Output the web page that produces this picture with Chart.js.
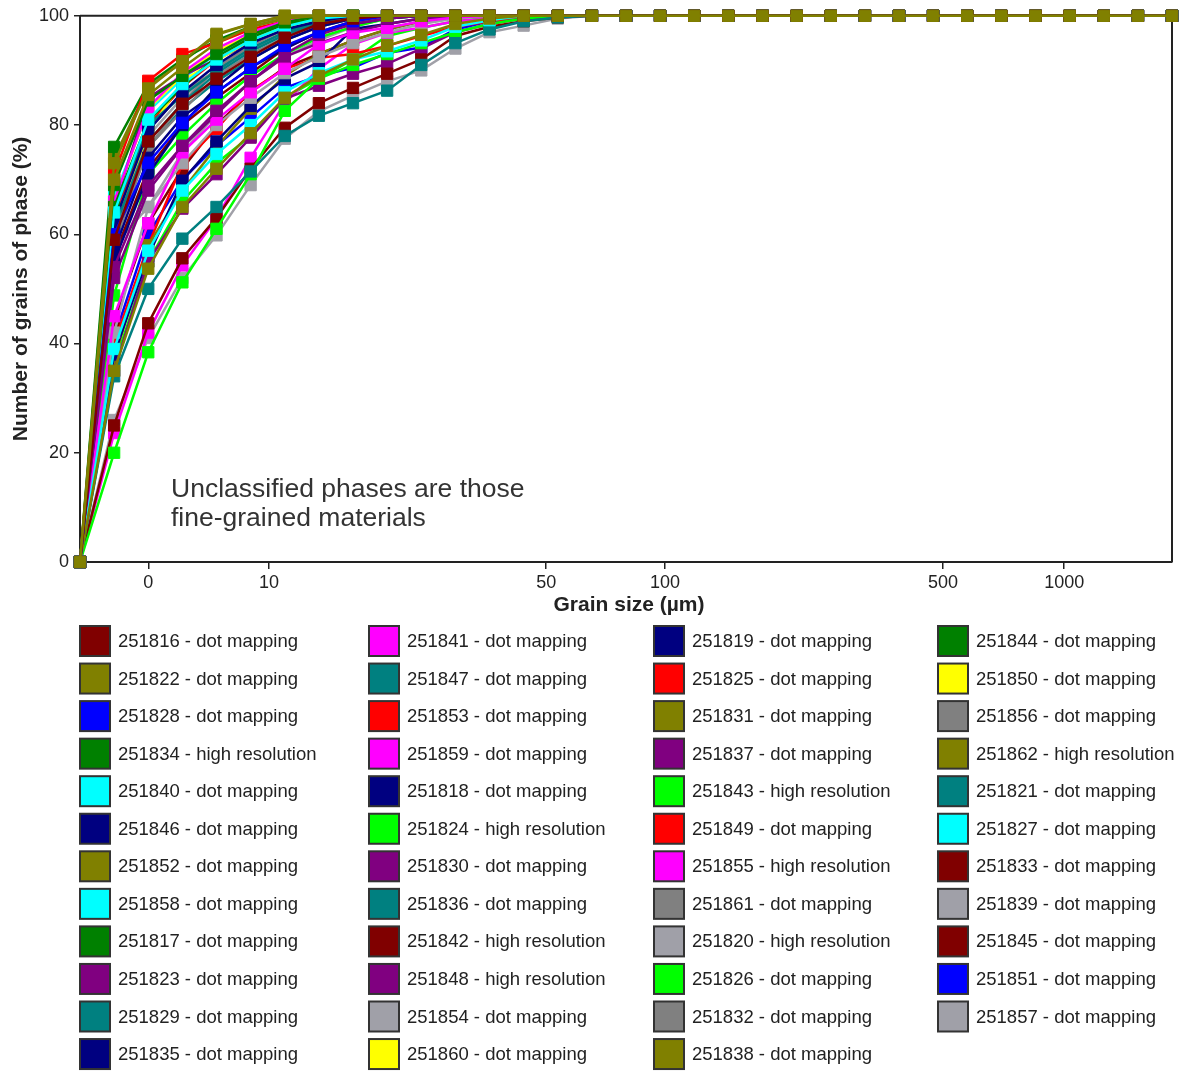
<!DOCTYPE html>
<html>
<head>
<meta charset="utf-8">
<script src="https://cdn.jsdelivr.net/npm/chart.js@4"></script>
<style>
  body { margin: 0; background: #fff; }
  #wrap { width: 1181px; height: 1072px; position: relative; }
</style>
</head>
<body>
<div id="wrap"><canvas id="grafico"></canvas></div>
<script>
// samples, in legend order (column by column)
const sampleIds = [
  '251816', '251822', '251828', '251834', '251840', '251846', '251852', '251858', '251817', '251823', '251829', '251835',
  '251841', '251847', '251853', '251859', '251818', '251824', '251830', '251836', '251842', '251848', '251854', '251860',
  '251819', '251825', '251831', '251837', '251843', '251849', '251855', '251861', '251820', '251826', '251832', '251838',
  '251844', '251850', '251856', '251862', '251821', '251827', '251833', '251839', '251845', '251851', '251857'
];
const methods = [
  'dot mapping', 'dot mapping', 'dot mapping', 'high resolution', 'dot mapping', 'dot mapping', 'dot mapping', 'dot mapping', 'dot mapping', 'dot mapping', 'dot mapping', 'dot mapping',
  'dot mapping', 'dot mapping', 'dot mapping', 'dot mapping', 'dot mapping', 'high resolution', 'dot mapping', 'dot mapping', 'high resolution', 'high resolution', 'dot mapping', 'dot mapping',
  'dot mapping', 'dot mapping', 'dot mapping', 'dot mapping', 'high resolution', 'dot mapping', 'high resolution', 'dot mapping', 'high resolution', 'dot mapping', 'dot mapping', 'dot mapping',
  'dot mapping', 'dot mapping', 'dot mapping', 'high resolution', 'dot mapping', 'dot mapping', 'dot mapping', 'dot mapping', 'dot mapping', 'dot mapping', 'dot mapping'
];

// cumulative % of grains, one row per sample, 33 steps each
const seriesValues = [
  [0,59,77,83.9,88.5,92.5,96,98.5,99.5,100,100,100,100,100,100,100, 100,100,100,100,100,100,100,100,100,100,100,100,100,100,100,100,100], // 251816
  [0,73,86.7,91.7,96.7,98.5,100,100,100,100,100,100,100,100,100,100, 100,100,100,100,100,100,100,100,100,100,100,100,100,100,100,100,100], // 251822
  [0,60,73.1,80.4,86,90.5,94.5,97,99,100,100,100,100,100,100,100, 100,100,100,100,100,100,100,100,100,100,100,100,100,100,100,100,100], // 251828
  [0,69,84.5,89,93,96.5,98.8,100,100,100,100,100,100,100,100,100, 100,100,100,100,100,100,100,100,100,100,100,100,100,100,100,100,100], // 251834
  [0,64,81,87.5,92,95.5,98,99.5,100,100,100,100,100,100,100,100, 100,100,100,100,100,100,100,100,100,100,100,100,100,100,100,100,100], // 251840
  [0,62,79,86,91,95,97.5,99,100,100,100,100,100,100,100,100, 100,100,100,100,100,100,100,100,100,100,100,100,100,100,100,100,100], // 251846
  [0,35,53.7,65,72,78.5,85,89,92,94.5,96.5,98.5,99.5,100,100,100, 100,100,100,100,100,100,100,100,100,100,100,100,100,100,100,100,100], // 251852
  [0,39,57,68,74.7,80,86,89.5,92,93.5,95.5,98,99.2,100,100,100, 100,100,100,100,100,100,100,100,100,100,100,100,100,100,100,100,100], // 251858
  [0,65,80.8,87,92.5,96,98.5,99.5,100,100,100,100,100,100,100,100, 100,100,100,100,100,100,100,100,100,100,100,100,100,100,100,100,100], // 251817
  [0,54,68.9,76.2,82.6,88,93,96.5,98.5,99.5,100,100,100,100,100,100, 100,100,100,100,100,100,100,100,100,100,100,100,100,100,100,100,100], // 251823
  [0,34,50,59.2,65,71.5,78,81.7,84,86.3,91,95,97.5,99,99.7,100, 100,100,100,100,100,100,100,100,100,100,100,100,100,100,100,100,100], // 251829
  [0,57,74,81.5,86,90.5,94,97,98.5,99.5,100,100,100,100,100,100, 100,100,100,100,100,100,100,100,100,100,100,100,100,100,100,100,100], // 251835
  [0,66,83.2,89.6,94,97,99,100,100,100,100,100,100,100,100,100, 100,100,100,100,100,100,100,100,100,100,100,100,100,100,100,100,100], // 251841
  [0,61,77,84,89.5,93.5,96.5,98.8,100,100,100,100,100,100,100,100, 100,100,100,100,100,100,100,100,100,100,100,100,100,100,100,100,100], // 251847
  [0,71,88.1,93,95,97.5,99,100,100,100,100,100,100,100,100,100, 100,100,100,100,100,100,100,100,100,100,100,100,100,100,100,100,100], // 251853
  [0,45,62,75,81,86,90.3,94.8,96.9,97.8,99,99.7,100,100,100,100, 100,100,100,100,100,100,100,100,100,100,100,100,100,100,100,100,100], // 251859
  [0,55,71,80,87,92,95.5,98,99.5,100,100,100,100,100,100,100, 100,100,100,100,100,100,100,100,100,100,100,100,100,100,100,100,100], // 251818
  [0,20,38.4,51.2,61,71,82.6,88.5,91,93,95,97,98.5,99.5,100,100, 100,100,100,100,100,100,100,100,100,100,100,100,100,100,100,100,100], // 251824
  [0,52,68,76,82,88,92.5,95,97,98.5,99.5,100,100,100,100,100, 100,100,100,100,100,100,100,100,100,100,100,100,100,100,100,100,100], // 251830
  [0,64,80,85.4,90,94,97,99,100,100,100,100,100,100,100,100, 100,100,100,100,100,100,100,100,100,100,100,100,100,100,100,100,100], // 251836
  [0,25,43.7,55.6,63,72,79.5,84,86.8,89.4,92,96.3,98,99,99.7,100, 100,100,100,100,100,100,100,100,100,100,100,100,100,100,100,100,100], // 251842
  [0,35,55,64.7,71,77.7,84.8,87.2,89.4,91.2,94,97,98.5,99.5,100,100, 100,100,100,100,100,100,100,100,100,100,100,100,100,100,100,100,100], // 251848
  [0,42,65,73,80,85,89.5,92.5,95,97,98.5,99.5,100,100,100,100, 100,100,100,100,100,100,100,100,100,100,100,100,100,100,100,100,100], // 251854
  [0,62,78.6,88.1,91.8,95.5,98,99.5,100,100,100,100,100,100,100,100, 100,100,100,100,100,100,100,100,100,100,100,100,100,100,100,100,100], // 251860
  [0,38,56,69.8,77,83.5,88.5,91.5,97.6,98.5,99.5,100,100,100,100,100, 100,100,100,100,100,100,100,100,100,100,100,100,100,100,100,100,100], // 251819
  [0,63,80,87,92,95.5,98,99.5,100,100,100,100,100,100,100,100, 100,100,100,100,100,100,100,100,100,100,100,100,100,100,100,100,100], // 251825
  [0,37,58,68,76,83,89,93,95.5,97.5,99,99.7,100,100,100,100, 100,100,100,100,100,100,100,100,100,100,100,100,100,100,100,100,100], // 251831
  [0,65,85,89,92,95,97.5,99,100,100,100,100,100,100,100,100, 100,100,100,100,100,100,100,100,100,100,100,100,100,100,100,100,100], // 251837
  [0,48.8,71,78,84,89,93,96,98,99.5,100,100,100,100,100,100, 100,100,100,100,100,100,100,100,100,100,100,100,100,100,100,100,100], // 251843
  [0,40,58,72.9,79.3,86.3,90.3,92.3,93,94.5,96.3,98,99,99.7,100,100, 100,100,100,100,100,100,100,100,100,100,100,100,100,100,100,100,100], // 251849
  [0,23.6,42,54.3,62.9,74,84,90.3,94.8,96.9,97.8,99,99.5,100,100,100, 100,100,100,100,100,100,100,100,100,100,100,100,100,100,100,100,100], // 251855
  [0,58,75.9,84,90.5,94.5,97.5,99,100,100,100,100,100,100,100,100, 100,100,100,100,100,100,100,100,100,100,100,100,100,100,100,100,100], // 251861
  [0,26,41,52,59.8,69,77.5,82.5,85.4,88,90,94,97,98.2,99.5,100, 100,100,100,100,100,100,100,100,100,100,100,100,100,100,100,100,100], // 251820
  [0,36,55,66,73,78,85,88.5,92,96.3,97.8,99,99.7,100,100,100, 100,100,100,100,100,100,100,100,100,100,100,100,100,100,100,100,100], // 251826
  [0,60,76,82.6,89,93,96,98.5,99.5,100,100,100,100,100,100,100, 100,100,100,100,100,100,100,100,100,100,100,100,100,100,100,100,100], // 251832
  [0,70,85.5,90.5,95,98,99.5,100,100,100,100,100,100,100,100,100, 100,100,100,100,100,100,100,100,100,100,100,100,100,100,100,100,100], // 251838
  [0,76,87.5,92,95.5,98,99.5,100,100,100,100,100,100,100,100,100, 100,100,100,100,100,100,100,100,100,100,100,100,100,100,100,100,100], // 251844
  [0,66,83,89,93.5,96.5,98.5,99.5,100,100,100,100,100,100,100,100, 100,100,100,100,100,100,100,100,100,100,100,100,100,100,100,100,100], // 251850
  [0,63,79,86,90,94,97,99,100,100,100,100,100,100,100,100, 100,100,100,100,100,100,100,100,100,100,100,100,100,100,100,100,100], // 251856
  [0,74,87,91.5,96.5,98.5,100,100,100,100,100,100,100,100,100,100, 100,100,100,100,100,100,100,100,100,100,100,100,100,100,100,100,100], // 251862
  [0,59,76,83,88,92,95.5,98,99.5,100,100,100,100,100,100,100, 100,100,100,100,100,100,100,100,100,100,100,100,100,100,100,100,100], // 251821
  [0,67,82.5,88.5,93,96,98.5,99.5,100,100,100,100,100,100,100,100, 100,100,100,100,100,100,100,100,100,100,100,100,100,100,100,100,100], // 251827
  [0,56,72,80,85,89.5,94,97,99,100,100,100,100,100,100,100, 100,100,100,100,100,100,100,100,100,100,100,100,100,100,100,100,100], // 251833
  [0,61,78,85,90,94,96.5,98.5,99.5,100,100,100,100,100,100,100, 100,100,100,100,100,100,100,100,100,100,100,100,100,100,100,100,100], // 251839
  [0,44,62,72,80,86,90.5,93,95.5,97.5,99,99.7,100,100,100,100, 100,100,100,100,100,100,100,100,100,100,100,100,100,100,100,100,100], // 251845
  [0,41,60,70,76.2,81.4,86.8,89,90.5,93.2,94.2,97.5,99,99.7,100,100, 100,100,100,100,100,100,100,100,100,100,100,100,100,100,100,100,100], // 251851
  [0,58,65,75,82,88,92.5,95.5,98,99.5,100,100,100,100,100,100, 100,100,100,100,100,100,100,100,100,100,100,100,100,100,100,100,100]  // 251857
];

const xTickLabels = ['0', '10', '50', '100', '500', '1000'];
const xTickSteps = [2, 5.54, 13.66, 17.14, 25.29, 28.84];
const yTicks = [0, 20, 40, 60, 80, 100];

// colours per sample, same order as sampleIds
const cores = {
  maroon: '#800000', olive: '#808000', blue: '#0000ff', green: '#008000', cyan: '#00ffff',
  navy: '#000080', teal: '#008080', magenta: '#ff00ff', red: '#ff0000', lime: '#00ff00',
  purple: '#800080', gray: '#808080', silver: '#a0a0a8', yellow: '#ffff00'
};
const seriesColors = [
  'maroon', 'olive', 'blue', 'green', 'cyan', 'navy', 'olive', 'cyan', 'green', 'purple', 'teal', 'navy',
  'magenta', 'teal', 'red', 'magenta', 'navy', 'lime', 'purple', 'teal', 'maroon', 'purple', 'silver', 'yellow',
  'navy', 'red', 'olive', 'purple', 'lime', 'red', 'magenta', 'gray', 'silver', 'lime', 'gray', 'olive',
  'green', 'yellow', 'gray', 'olive', 'teal', 'cyan', 'maroon', 'silver', 'maroon', 'blue', 'silver'
].map(c => cores[c]);

const fonte = '"Liberation Sans", Arial, sans-serif';

const datasets = sampleIds.map((id, i) => ({
  label: id + ' - ' + methods[i],
  data: seriesValues[i].map((v, k) => ({ x: k, y: v })),
  borderColor: seriesColors[i],
  backgroundColor: seriesColors[i],
  pointBackgroundColor: seriesColors[i],
  pointBorderColor: seriesColors[i],
  borderWidth: 2.5,
  pointStyle: 'rect',
  pointRadius: 8,
  pointBorderWidth: 1,
  tension: 0,
  clip: false,
  order: id === '251838' ? -1 : 0
}));

const decoracao = {
  id: 'decoracao',
  beforeDatasetsDraw(chart) {
    const { ctx, chartArea: a } = chart;
    ctx.save();
    ctx.strokeStyle = '#222';
    ctx.lineWidth = 2;
    ctx.beginPath();
    ctx.moveTo(a.left, a.top);
    ctx.lineTo(a.right, a.top);
    ctx.lineTo(a.right, a.bottom);
    ctx.stroke();
    ctx.restore();
  },
  afterDraw(chart) {
    const { ctx, chartArea: a } = chart;
    ctx.save();
    ctx.fillStyle = '#222';
    // axis titles
    ctx.font = 'bold 21px ' + fonte;
    ctx.textAlign = 'center';
    ctx.textBaseline = 'middle';
    ctx.fillText('Grain size (µm)', 629, 605);
    ctx.save();
    ctx.translate(21, (a.top + a.bottom) / 2);
    ctx.rotate(-Math.PI / 2);
    ctx.fillText('Number of grains of phase (%)', 0, 0);
    ctx.restore();
    // note
    ctx.fillStyle = '#333';
    ctx.font = '26.5px ' + fonte;
    ctx.textAlign = 'left';
    ctx.fillText('Unclassified phases are those', 171, 490);
    ctx.fillText('fine-grained materials', 171, 519);
    // legend grid
    const colX = [80, 369, 654, 938];
    ctx.font = '18.5px ' + fonte;
    chart.data.datasets.forEach((ds, i) => {
      const col = Math.floor(i / 12);
      const row = i % 12;
      const x = colX[col];
      const y = 641 + row * 37.55;
      ctx.fillStyle = ds.borderColor;
      ctx.fillRect(x, y - 15, 30, 30);
      ctx.strokeStyle = '#333';
      ctx.lineWidth = 2;
      ctx.strokeRect(x, y - 15, 30, 30);
      ctx.fillStyle = '#222';
      ctx.fillText(ds.label, x + 38, y + 1);
    });
    ctx.restore();
  }
};

new Chart(document.getElementById('grafico'), {
  type: 'line',
  data: { datasets },
  options: {
    responsive: true,
    maintainAspectRatio: false,
    animation: false,
    layout: { padding: { top: 15, right: 8, bottom: 0, left: 0 } },
    plugins: { legend: { display: false }, tooltip: { enabled: false } },
    scales: {
      x: {
        type: 'linear',
        min: 0,
        max: 32,
        afterBuildTicks: s => { s.ticks = xTickSteps.map(v => ({ value: v })); },
        afterFit: s => { s.height = 1072 - 562; },
        ticks: {
          autoSkip: false,
          maxRotation: 0,
          padding: 3,
          color: '#222',
          font: { family: fonte, size: 18 },
          callback: (v, i) => xTickLabels[i]
        },
        grid: { drawOnChartArea: false, drawTicks: true, tickLength: 7, color: '#222', lineWidth: 1.5 },
        border: { color: '#222', width: 2 }
      },
      y: {
        min: 0,
        max: 100,
        afterBuildTicks: s => { s.ticks = yTicks.map(v => ({ value: v })); },
        afterFit: s => { s.width = 80; },
        ticks: {
          padding: 5,
          color: '#222',
          font: { family: fonte, size: 18 }
        },
        grid: { drawOnChartArea: false, drawTicks: true, tickLength: 6, color: '#222', lineWidth: 1.5 },
        border: { color: '#222', width: 2 }
      }
    }
  },
  plugins: [decoracao]
});
</script>
</body>
</html>
